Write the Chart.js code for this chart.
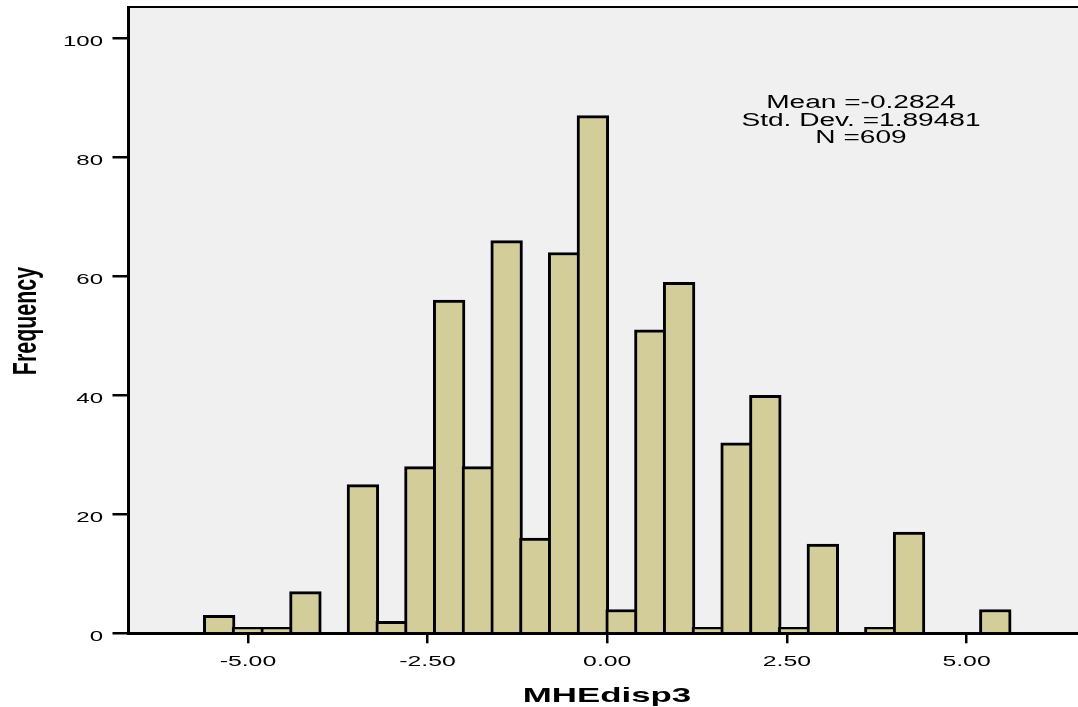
<!DOCTYPE html>
<html>
<head>
<meta charset="utf-8">
<script src="https://cdn.jsdelivr.net/npm/chart.js@4/dist/chart.umd.min.js"></script>
<style>
  html, body { margin: 0; padding: 0; background: #fff; }
  #histChart { display: block; }
</style>
</head>
<body>
<canvas id="histChart" width="1078" height="707"></canvas>
<script>
// Histogram bins (centres, width 0.4) and counts
const binCenters = [-5.4, -5.0, -4.6, -4.2, -3.8, -3.4, -3.0, -2.6, -2.2, -1.8, -1.4, -1.0, -0.6, -0.2,
                     0.2, 0.6, 1.0, 1.4, 1.8, 2.2, 2.6, 3.0, 3.4, 3.8, 4.2, 4.6, 5.0, 5.4];
const frequencies = [3, 1, 1, 7, 0, 25, 2, 28, 56, 28, 66, 16, 64, 87,
                     4, 51, 59, 1, 32, 40, 1, 15, 0, 1, 17, 0, 0, 4];

const xTickValues = [-5, -2.5, 0, 2.5, 5];
const xTickLabels = ['-5.00', '-2.50', '0.00', '2.50', '5.00'];
const yTickValues = [0, 20, 40, 60, 80, 100];
const yTickLabels = ['0', '20', '40', '60', '80', '100'];

const statLines = ['Mean =-0.2824', 'Std. Dev. =1.89481', 'N =609'];
const xTitle = 'MHEdisp3';
const yTitle = 'Frequency';

// Text in the original is stretched sideways, so draw it with a scale
function wideText(ctx, str, px, py, font, sx, align) {
    ctx.save();
    ctx.translate(px, py);
    ctx.scale(sx, 1);
    ctx.font = font;
    ctx.fillStyle = '#000';
    ctx.textAlign = align;
    ctx.textBaseline = 'alphabetic';
    ctx.fillText(str, 0, 0);
    ctx.restore();
}

const spssLook = {
    id: 'spssLook',
    beforeDraw(chart) {
        const { ctx, chartArea: a } = chart;
        ctx.save();
        ctx.fillStyle = '#F0F0F0';
        ctx.fillRect(a.left, a.top, a.right - a.left, a.bottom - a.top);
        ctx.restore();
    },
    afterDraw(chart) {
        const { ctx, chartArea: a } = chart;
        const xs = chart.scales.x;
        const ys = chart.scales.y;

        // top frame line
        ctx.save();
        ctx.strokeStyle = '#000';
        ctx.lineWidth = 2;
        ctx.beginPath();
        ctx.moveTo(a.left, a.top);
        ctx.lineTo(a.right, a.top);
        ctx.stroke();
        ctx.restore();

        const font = '15.5px "Liberation Sans", Arial, sans-serif';
        xTickValues.forEach((v, i) => {
            wideText(ctx, xTickLabels[i], xs.getPixelForValue(v), 666, font, 1.6, 'center');
        });
        yTickValues.forEach((v, i) => {
            wideText(ctx, yTickLabels[i], 103, ys.getPixelForValue(v) + 8, font, 1.55, 'right');
        });

        // stats box
        const statFont = '18px "Liberation Sans", Arial, sans-serif';
        statLines.forEach((s, i) => {
            wideText(ctx, s, 861, 108 + i * 17.5, statFont, 1.56, 'center');
        });

        // axis titles
        wideText(ctx, xTitle, 607, 701.5, 'bold 21px "Liberation Sans", Arial, sans-serif', 1.66, 'center');

        ctx.save();
        ctx.translate(36, 321);
        ctx.rotate(-Math.PI / 2);
        ctx.scale(1.02, 1.6);
        ctx.font = 'bold 21px "Liberation Sans", Arial, sans-serif';
        ctx.fillStyle = '#000';
        ctx.textAlign = 'center';
        ctx.textBaseline = 'alphabetic';
        ctx.fillText(yTitle, 0, 0);
        ctx.restore();
    }
};

const ctx = document.getElementById('histChart').getContext('2d');
const histChart = new Chart(ctx, {
    type: 'bar',
    data: {
        datasets: [{
            label: yTitle,
            data: binCenters.map((c, i) => ({ x: c, y: frequencies[i] })),
            backgroundColor: '#D3CE99',
            borderColor: '#000000',
            borderWidth: 3,
            barThickness: 31.7  // bin width in px plus the border so neighbours share one edge
        }]
    },
    options: {
        responsive: false,
        animation: false,
        layout: { padding: { top: 7, left: 0, right: 0, bottom: 0 } },
        plugins: {
            legend: { display: false },
            tooltip: { enabled: false }
        },
        scales: {
            x: {
                type: 'linear',
                min: -6.662,
                max: 6.551,
                offset: false,
                z: 1,
                afterBuildTicks: s => { s.ticks = xTickValues.map(v => ({ value: v })); },
                afterFit: s => { s.height = 73.7; },
                ticks: { display: false },
                grid: {
                    display: true,
                    offset: false,
                    drawOnChartArea: false,
                    drawTicks: true,
                    tickLength: 10,
                    color: '#000',
                    lineWidth: 2.5
                },
                border: { display: true, color: '#000', width: 3 }
            },
            y: {
                min: 0,
                max: 105.26,
                z: 1,
                afterBuildTicks: s => { s.ticks = yTickValues.map(v => ({ value: v })); },
                afterFit: s => { s.width = 128.5; },
                ticks: { display: false },
                grid: {
                    display: true,
                    drawOnChartArea: false,
                    drawTicks: true,
                    tickLength: 16,
                    color: '#000',
                    lineWidth: 2.5
                },
                border: { display: true, color: '#000', width: 3 }
            }
        }
    },
    plugins: [spssLook]
});
</script>
</body>
</html>
